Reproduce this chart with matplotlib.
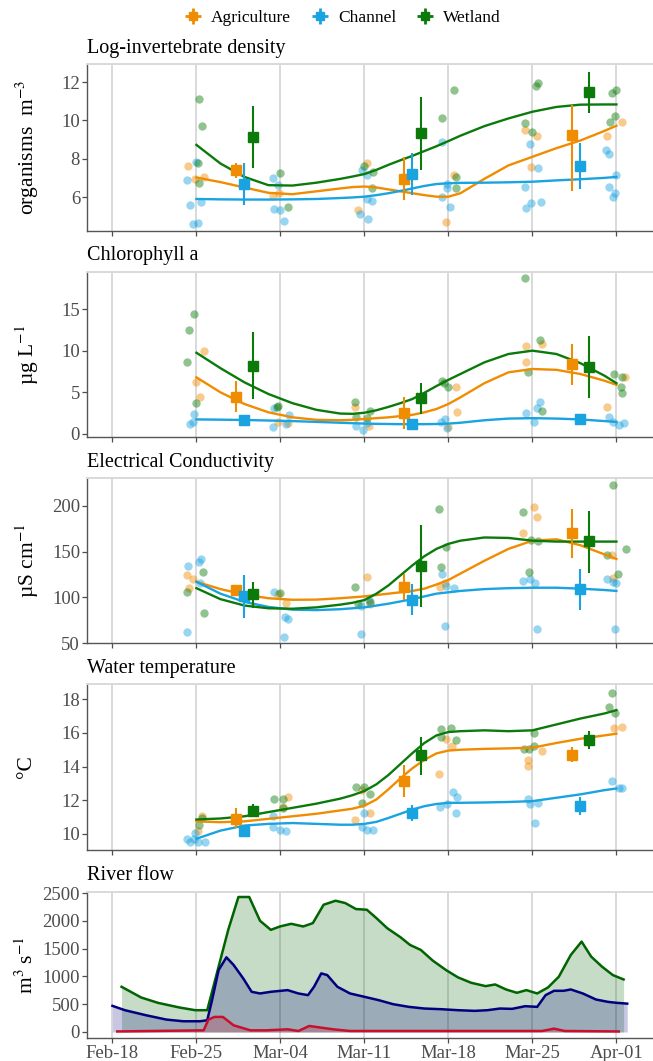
import datetime as dt
import matplotlib
matplotlib.use('Agg')
import matplotlib.pyplot as plt
import matplotlib.dates as mdates
from matplotlib.lines import Line2D
from matplotlib.legend_handler import HandlerTuple

plt.rcParams['font.family'] = ['Liberation Serif', 'DejaVu Serif']
plt.rcParams['mathtext.fontset'] = 'stix'

start = dt.datetime(2019, 2, 18)

def to_dates(days):
    return [start + dt.timedelta(days=d) for d in days]

groups = ['Agriculture', 'Channel', 'Wetland']
colors = {'Agriculture': '#F08C00', 'Channel': '#19A3E0', 'Wetland': '#0B7A0B'}

# smooth curves read every ~2 days (days since Feb-18)
smooth_day = [7, 9, 11, 13, 15, 17, 19, 20, 21, 22, 23, 24, 25, 26, 27, 28, 29, 31, 33, 35, 37, 39, 41, 42]
# weekly means, dodged per group
mean_day = [11, 25, 39]

# ---- Log-invertebrate density
inv_agr_day = [6.3, 6.9, 7.6, 13.4, 13.9, 20.5, 21.2, 27.8, 28.5, 34.4, 34.9, 35.4, 41.25, 42.5]
inv_agr_val = [7.6, 6.94, 7.07, 6.05, 6.23, 5.35, 7.8, 4.71, 7.15, 9.48, 7.56, 9.17, 9.17, 9.9]
inv_cha_day = [6.2, 6.5, 6.7, 7.1, 7.0, 7.4, 13.4, 13.8, 13.5, 14.0, 14.3, 20.6, 20.8, 21.2, 21.3, 21.2,
               21.6, 27.5, 27.5, 27.85, 28.1, 27.9, 34.4, 34.45, 34.9, 34.8, 35.5, 35.7, 41.1, 41.4, 41.4,
               41.7, 41.9, 42.0]
inv_cha_val = [6.89, 5.56, 4.62, 4.65, 7.85, 5.75, 6.98, 6.63, 5.4, 5.32, 4.74, 5.1, 7.41, 7.15, 4.83, 5.88,
               5.78, 8.85, 6.0, 6.45, 5.49, 6.68, 6.5, 5.44, 5.7, 8.78, 7.5, 5.72, 8.46, 8.25, 6.54,
               6.0, 6.23, 7.14]
inv_wet_day = [7.2, 7.5, 7.15, 7.2, 14.0, 14.6, 21.0, 21.6, 21.7, 27.5, 28.5, 28.6, 28.6, 34.4, 35.0, 35.3,
               35.5, 41.5, 41.6, 42.0, 41.9]
inv_wet_val = [11.12, 9.69, 7.8, 6.75, 7.24, 5.49, 7.6, 6.49, 7.33, 10.13, 11.58, 7.03, 6.49, 9.86, 9.37,
               11.8, 11.93, 9.9, 11.44, 11.58, 10.21]
inv_agr_smooth = [7.02, 6.78, 6.5, 6.22, 6.15, 6.3, 6.45, 6.52, 6.55, 6.5, 6.4, 6.3, 6.2, 6.1, 6.02, 6.02,
                  6.2, 6.95, 7.65, 8.1, 8.55, 8.95, 9.45, 9.72]
inv_cha_smooth = [5.9, 5.88, 5.87, 5.87, 5.88, 5.9, 5.95, 5.98, 6.02, 6.1, 6.2, 6.32, 6.45, 6.58, 6.68, 6.72,
                  6.74, 6.75, 6.77, 6.8, 6.87, 6.93, 7.0, 7.05]
inv_wet_smooth = [8.72, 7.75, 7.05, 6.62, 6.6, 6.75, 6.95, 7.07, 7.2, 7.42, 7.68, 7.92, 8.15, 8.4, 8.65, 8.92,
                  9.2, 9.7, 10.1, 10.45, 10.7, 10.82, 10.83, 10.83]
inv_agr_mean = [7.42, 6.94, 9.25]
inv_agr_lo = [7.0, 5.84, 6.3]
inv_agr_hi = [7.8, 8.08, 10.8]
inv_cha_mean = [6.7, 7.2, 7.63]
inv_cha_lo = [5.58, 6.1, 6.4]
inv_cha_hi = [7.77, 8.3, 8.8]
inv_wet_mean = [9.13, 9.34, 11.49]
inv_wet_lo = [7.5, 7.42, 10.39]
inv_wet_hi = [10.74, 11.23, 12.52]

# ---- Chlorophyll a
chl_agr_day = [7.0, 7.3, 7.6, 13.8, 14.6, 20.2, 21.4, 27.95, 28.6, 28.75, 34.5, 34.5, 35.8, 41.25, 42.7]
chl_agr_val = [6.2, 4.5, 10.0, 1.5, 1.3, 3.3, 1.0, 0.9, 5.6, 2.7, 10.6, 8.6, 10.8, 3.2, 6.8]
chl_cha_day = [6.5, 6.8, 6.7, 13.4, 13.5, 14.5, 14.75, 20.3, 20.9, 21.2, 27.4, 27.7, 27.85, 34.5, 35.1,
               35.4, 35.6, 41.4, 41.7, 42.2, 42.6]
chl_cha_val = [1.2, 2.4, 1.5, 0.9, 3.1, 1.2, 2.3, 1.0, 0.5, 1.3, 1.5, 1.8, 0.7, 2.5, 1.4, 3.1, 3.8, 2.1,
               1.5, 1.1, 1.3]
chl_wet_day = [6.2, 6.4, 6.8, 6.95, 13.7, 13.8, 20.2, 20.3, 21.2, 21.5, 27.5, 27.6, 27.95, 34.4, 34.65,
               35.6, 35.8, 41.8, 42.4, 42.5, 42.5]
chl_wet_val = [8.7, 12.5, 14.4, 3.77, 3.3, 3.4, 3.9, 2.1, 1.9, 2.8, 6.4, 6.1, 5.6, 18.7, 7.5, 11.3, 2.8,
               7.2, 5.7, 4.9, 6.8]
chl_agr_smooth = [6.8, 5.0, 3.6, 2.6, 2.0, 1.7, 1.65, 1.7, 1.8, 1.9, 2.0, 2.15, 2.3, 2.6, 3.0, 3.6, 4.4,
                  6.1, 7.4, 7.8, 7.7, 7.2, 6.4, 5.9]
chl_cha_smooth = [1.75, 1.72, 1.68, 1.62, 1.55, 1.45, 1.35, 1.3, 1.25, 1.22, 1.2, 1.18, 1.18, 1.18, 1.2,
                  1.25, 1.35, 1.65, 1.85, 1.9, 1.85, 1.75, 1.55, 1.45]
chl_wet_smooth = [9.75, 7.9, 6.2, 4.8, 3.7, 2.9, 2.45, 2.42, 2.55, 2.85, 3.25, 3.7, 4.2, 4.95, 5.75, 6.5,
                  7.2, 8.6, 9.6, 10.0, 9.6, 8.5, 7.0, 6.1]
chl_agr_mean = [4.5, 2.5, 8.4]
chl_agr_lo = [2.6, 0.6, 5.9]
chl_agr_hi = [6.4, 4.4, 10.8]
chl_cha_mean = [1.7, 1.2, 1.8]
chl_cha_lo = [1.0, 1.0, 1.2]
chl_cha_hi = [2.3, 1.4, 2.4]
chl_wet_mean = [8.2, 4.3, 8.1]
chl_wet_lo = [4.2, 2.4, 4.3]
chl_wet_hi = [12.3, 6.1, 11.8]

# ---- Electrical conductivity
ec_agr_day = [6.25, 6.4, 6.7, 13.8, 14.5, 21.2, 21.46, 27.3, 27.7, 34.2, 35.1, 35.4, 41.6, 41.7]
ec_agr_val = [124.4, 110.6, 120, 104, 93.6, 122.6, 92.8, 111, 116, 170.5, 199, 188, 146, 121.5]
ec_cha_day = [6.2, 6.3, 7.2, 7.4, 7.3, 13.5, 14.3, 14.4, 14.6, 20.7, 20.7, 21.4, 27.5, 27.7, 27.8, 28.5,
              34.2, 34.8, 35.2, 35.4, 41.2, 41.7, 41.9, 42.0]
ec_cha_val = [62, 134, 139, 142, 116, 106, 57, 79, 76.5, 60, 90, 97, 125.5, 69, 112, 110, 118, 120, 116,
              65, 120, 117, 65.6, 115.4]
ec_wet_day = [6.25, 7.57, 7.64, 13.96, 20.2, 20.5, 21.46, 27.2, 27.4, 27.8, 34.2, 34.7, 34.9, 35.5, 41.25,
              41.7, 42.1, 42.8]
ec_wet_val = [106, 128, 83, 105, 111, 93, 95, 197, 133.5, 154.6, 193, 128, 162.6, 161.8, 146, 222.5, 126,
              152.4]
ec_agr_smooth = [117, 109, 103, 99, 97.3, 97.5, 99, 100, 101, 102.5, 104, 105.5, 107, 109.5, 114, 119,
                 126, 140, 153, 162, 163.5, 157, 147, 142]
ec_cha_smooth = [117, 104, 95, 89.5, 86.5, 86, 87, 88, 89, 91, 93, 95.5, 98, 101, 104, 105.5, 107, 109,
                 110, 110.5, 110.5, 109.5, 108, 107]
ec_wet_smooth = [110, 98, 91, 88, 87.5, 89, 92, 94, 97, 104, 113, 124, 135, 145, 153, 158.5, 162, 165.5,
                 165, 162, 161, 161, 161, 161]
ec_agr_mean = [108, 111, 170.5]
ec_agr_lo = [104, 97, 142.6]
ec_agr_hi = [112, 126, 197]
ec_cha_mean = [101, 97, 109]
ec_cha_lo = [77, 81, 86]
ec_cha_hi = [124.4, 114.6, 130.6]
ec_wet_mean = [103.4, 134, 161.5]
ec_wet_lo = [88, 89, 127]
ec_wet_hi = [117, 179, 195]

# ---- Water temperature
wt_agr_day = [7.15, 7.5, 14.6, 14.2, 20.2, 20.8, 21.5, 27.2, 27.8, 28.3, 34.65, 34.65, 35.8, 41.8, 42.5]
wt_agr_val = [10.18, 11.08, 12.2, 11.6, 10.85, 12.6, 11.24, 13.53, 15.65, 15.25, 14.37, 14.02, 14.9,
              16.3, 16.33]
wt_cha_day = [6.25, 6.5, 6.8, 6.9, 7.15, 7.7, 13.4, 13.4, 14.0, 14.5, 20.8, 21.0, 21.2, 21.7, 27.3, 27.9,
              28.4, 28.6, 28.75, 34.65, 34.8, 35.2, 35.5, 41.6, 42.2, 42.5]
wt_cha_val = [9.7, 9.5, 9.7, 10.06, 9.5, 9.5, 11.04, 10.4, 10.25, 10.18, 10.4, 11.27, 10.25, 10.25, 11.6,
              11.78, 12.5, 11.24, 12.18, 12.06, 11.78, 10.65, 11.82, 13.16, 12.75, 12.7]
wt_wet_day = [7.2, 7.5, 13.5, 14.2, 14.2, 20.3, 20.8, 21.0, 21.5, 27.4, 27.4, 28.2, 28.6, 34.3, 34.7, 35.1,
              35.1, 41.4, 41.6, 41.9]
wt_wet_val = [10.55, 10.94, 12.06, 12.06, 11.57, 12.8, 11.82, 12.8, 12.35, 16.24, 15.75, 16.27, 15.6,
              15.06, 15.06, 15.98, 15.2, 17.55, 18.39, 17.16]
wt_agr_smooth = [10.75, 10.7, 10.75, 10.9, 11.05, 11.2, 11.4, 11.5, 11.68, 12.05, 12.65, 13.3, 13.9, 14.4,
                 14.78, 14.95, 15.0, 15.05, 15.08, 15.12, 15.4, 15.65, 15.85, 15.95]
wt_cha_smooth = [9.72, 10.2, 10.5, 10.6, 10.65, 10.6, 10.55, 10.55, 10.6, 10.72, 10.95, 11.2, 11.45, 11.65,
                 11.78, 11.85, 11.85, 11.87, 11.9, 11.95, 12.15, 12.35, 12.6, 12.7]
wt_wet_smooth = [10.86, 10.92, 11.05, 11.3, 11.55, 11.8, 12.1, 12.3, 12.55, 12.95, 13.5, 14.15, 14.8, 15.4,
                 15.85, 16.05, 16.1, 16.15, 16.1, 16.15, 16.5, 16.85, 17.15, 17.35]
wt_agr_mean = [10.88, 13.14, 14.7]
wt_agr_lo = [10.35, 12.2, 14.27]
wt_agr_hi = [11.57, 14.08, 15.16]
wt_cha_mean = [10.16, 11.24, 11.69]
wt_cha_lo = [9.8, 10.78, 11.14]
wt_cha_hi = [10.5, 11.73, 12.2]
wt_wet_mean = [11.37, 14.69, 15.59]
wt_wet_lo = [11.0, 13.49, 15.06]
wt_wet_hi = [11.78, 15.75, 16.1]

# ---- River flow
flow_green_day = [0.76, 2.4, 3.8, 5.6, 6.9, 7.9, 8.7, 9.65, 10.5, 11.4, 12.3, 13.2, 13.96, 14.9, 15.9, 16.7,
                  17.6, 18.6, 19.4, 20.3, 21.2, 22.0, 22.9, 24.0, 24.8, 25.7, 26.7, 27.8, 28.8, 29.9,
                  31.1, 31.9, 32.8, 33.7, 34.5, 35.4, 36.3, 37.2, 38.2, 39.1, 39.9, 40.8, 41.7, 42.6]
flow_green_val = [813, 620, 524, 440, 392, 392, 1054, 1837, 2428, 2428, 2000, 1837, 1898, 1946, 1898, 1958,
                  2289, 2361, 2319, 2211, 2199, 2048, 1867, 1705, 1566, 1476, 1283, 1114, 982, 885,
                  825, 855, 765, 705, 753, 693, 801, 994, 1386, 1626, 1355, 1175, 1024, 945]
flow_blue_day = [0.0, 1.04, 2.8, 4.5, 5.9, 7.3, 7.9, 8.3, 8.85, 9.5, 10.1, 10.9, 11.6, 12.3, 13.2, 14.6,
                 15.5, 16.3, 16.8, 17.4, 17.9, 18.75, 19.8, 21.0, 22.2, 23.4, 24.7, 26.0, 27.4, 28.8,
                 30.2, 31.25, 32.3, 33.3, 34.4, 35.4, 36.1, 36.8, 37.6, 38.2, 39.2, 40.3, 41.3, 42.0, 42.9]
flow_blue_val = [470, 392, 301, 223, 193, 193, 211, 572, 1114, 1343, 1205, 964, 723, 693, 723, 753,
                 693, 663, 813, 1054, 1024, 813, 693, 633, 572, 500, 452, 422, 410, 392,
                 380, 392, 422, 416, 464, 452, 663, 741, 741, 765, 693, 584, 542, 525, 510]
flow_red_day = [0.4, 7.6, 8.0, 8.5, 9.2, 10.1, 11.5, 12.8, 14.6, 15.5, 16.4, 17.4, 18.4, 19.8, 35.8, 36.8,
                37.7, 42.2]
flow_red_val = [10, 30, 223, 271, 271, 120, 30, 30, 48, 18, 108, 78, 48, 18, 18, 60, 18, 10]

W, H = 653, 1061
fig = plt.figure(figsize=(W / 100, H / 100), dpi=100)

week_ticks = to_dates([0, 7, 14, 21, 28, 35, 42])
xmin, xmax = start - dt.timedelta(days=2.12), start + dt.timedelta(days=45.05)
tick_col = '#4d4d4d'


def make_axes(top, bottom, title, ylabel, yticks, ylim):
    ax = fig.add_axes([87 / W, 1 - bottom / H, (W - 87) / W, (bottom - top) / H])
    ax.set_xlim(xmin, xmax)
    ax.set_ylim(*ylim)
    ax.set_xticks(week_ticks)
    ax.set_yticks(yticks)
    ax.xaxis.set_major_formatter(mdates.DateFormatter('%b-%d'))
    ax.grid(axis='x', color='#d0d0d0', lw=1.1)
    ax.set_axisbelow(True)
    ax.spines['right'].set_visible(False)
    ax.spines['top'].set_color('#d9d9d9')
    ax.spines['top'].set_linewidth(1.4)
    for s in ('left', 'bottom'):
        ax.spines[s].set_color('#555555')
        ax.spines[s].set_linewidth(1.0)
    ax.tick_params(length=3.5, width=0.9, color=tick_col, labelcolor=tick_col, labelsize=13.5, pad=1.5)
    fig.text(87 / W, 1 - (top - 16) / H, title, fontsize=14.5, va='center', ha='left')
    fig.text(27 / W, 1 - (top + bottom) / 2 / H, ylabel, fontsize=15.5, rotation=90,
             ha='center', va='center')
    return ax


def draw_panel(ax, pts, smooths, means):
    for g, (d, v) in zip(groups, pts):
        ax.plot(to_dates(d), v, 'o', color=colors[g], alpha=0.45, ms=6, mec='none')
    for g, s in zip(groups, smooths):
        ax.plot(to_dates(smooth_day), s, color=colors[g], lw=1.7)
    for k, (g, (m, lo, hi)) in enumerate(zip(groups, means)):
        dd = to_dates([d + (k - 1) * 0.7 for d in mean_day])
        ax.vlines(dd, lo, hi, color=colors[g], lw=1.5)
        ax.plot(dd, m, 's', color=colors[g], ms=6.5)
    ax.tick_params(axis='x', labelbottom=False)


ax1 = make_axes(64, 231, 'Log-invertebrate density', r'organisms  m$^{-3}$', [6, 8, 10, 12], (4.23, 12.94))
draw_panel(ax1,
           [(inv_agr_day, inv_agr_val), (inv_cha_day, inv_cha_val), (inv_wet_day, inv_wet_val)],
           [inv_agr_smooth, inv_cha_smooth, inv_wet_smooth],
           [(inv_agr_mean, inv_agr_lo, inv_agr_hi), (inv_cha_mean, inv_cha_lo, inv_cha_hi),
            (inv_wet_mean, inv_wet_lo, inv_wet_hi)])

ax2 = make_axes(272, 437, 'Chlorophyll a', r'µg L$^{-1}$', [0, 5, 10, 15], (-0.36, 19.44))
draw_panel(ax2,
           [(chl_agr_day, chl_agr_val), (chl_cha_day, chl_cha_val), (chl_wet_day, chl_wet_val)],
           [chl_agr_smooth, chl_cha_smooth, chl_wet_smooth],
           [(chl_agr_mean, chl_agr_lo, chl_agr_hi), (chl_cha_mean, chl_cha_lo, chl_cha_hi),
            (chl_wet_mean, chl_wet_lo, chl_wet_hi)])

ax3 = make_axes(478, 643, 'Electrical Conductivity', r'µS cm$^{-1}$', [50, 100, 150, 200], (50, 230.6))
draw_panel(ax3,
           [(ec_agr_day, ec_agr_val), (ec_cha_day, ec_cha_val), (ec_wet_day, ec_wet_val)],
           [ec_agr_smooth, ec_cha_smooth, ec_wet_smooth],
           [(ec_agr_mean, ec_agr_lo, ec_agr_hi), (ec_cha_mean, ec_cha_lo, ec_cha_hi),
            (ec_wet_mean, ec_wet_lo, ec_wet_hi)])

ax4 = make_axes(684, 850, 'Water temperature', '°C', [10, 12, 14, 16, 18], (9.05, 18.9))
draw_panel(ax4,
           [(wt_agr_day, wt_agr_val), (wt_cha_day, wt_cha_val), (wt_wet_day, wt_wet_val)],
           [wt_agr_smooth, wt_cha_smooth, wt_wet_smooth],
           [(wt_agr_mean, wt_agr_lo, wt_agr_hi), (wt_cha_mean, wt_cha_lo, wt_cha_hi),
            (wt_wet_mean, wt_wet_lo, wt_wet_hi)])

ax5 = make_axes(892, 1038, 'River flow', r'm$^3$ s$^{-1}$', [0, 500, 1000, 1500, 2000, 2500], (-108, 2518))
for d, v, c in [(flow_green_day, flow_green_val, '#006400'),
                (flow_blue_day, flow_blue_val, '#000080'),
                (flow_red_day, flow_red_val, '#C8102E')]:
    x = to_dates(d)
    ax5.fill_between(x, 0, v, color=c, alpha=0.22, lw=0)
    ax5.plot(x, v, color=c, lw=1.8)

# legend keys: square with a cross of line + error bar, drawn on top of each other
handles = [(Line2D([], [], color=colors[g], marker='+', ms=12, mew=2, ls='none'),
            Line2D([], [], color=colors[g], marker='s', ms=5.5, ls='none')) for g in groups]
fig.legend(handles, groups, handler_map={tuple: HandlerTuple(ndivide=1, pad=0)},
           loc='center', bbox_to_anchor=(343 / W, 1 - 18 / H), ncol=3, frameon=False,
           fontsize=12.5, handlelength=0.9, handletextpad=0.6, columnspacing=1.2)

fig.savefig('out.png', dpi=100)
